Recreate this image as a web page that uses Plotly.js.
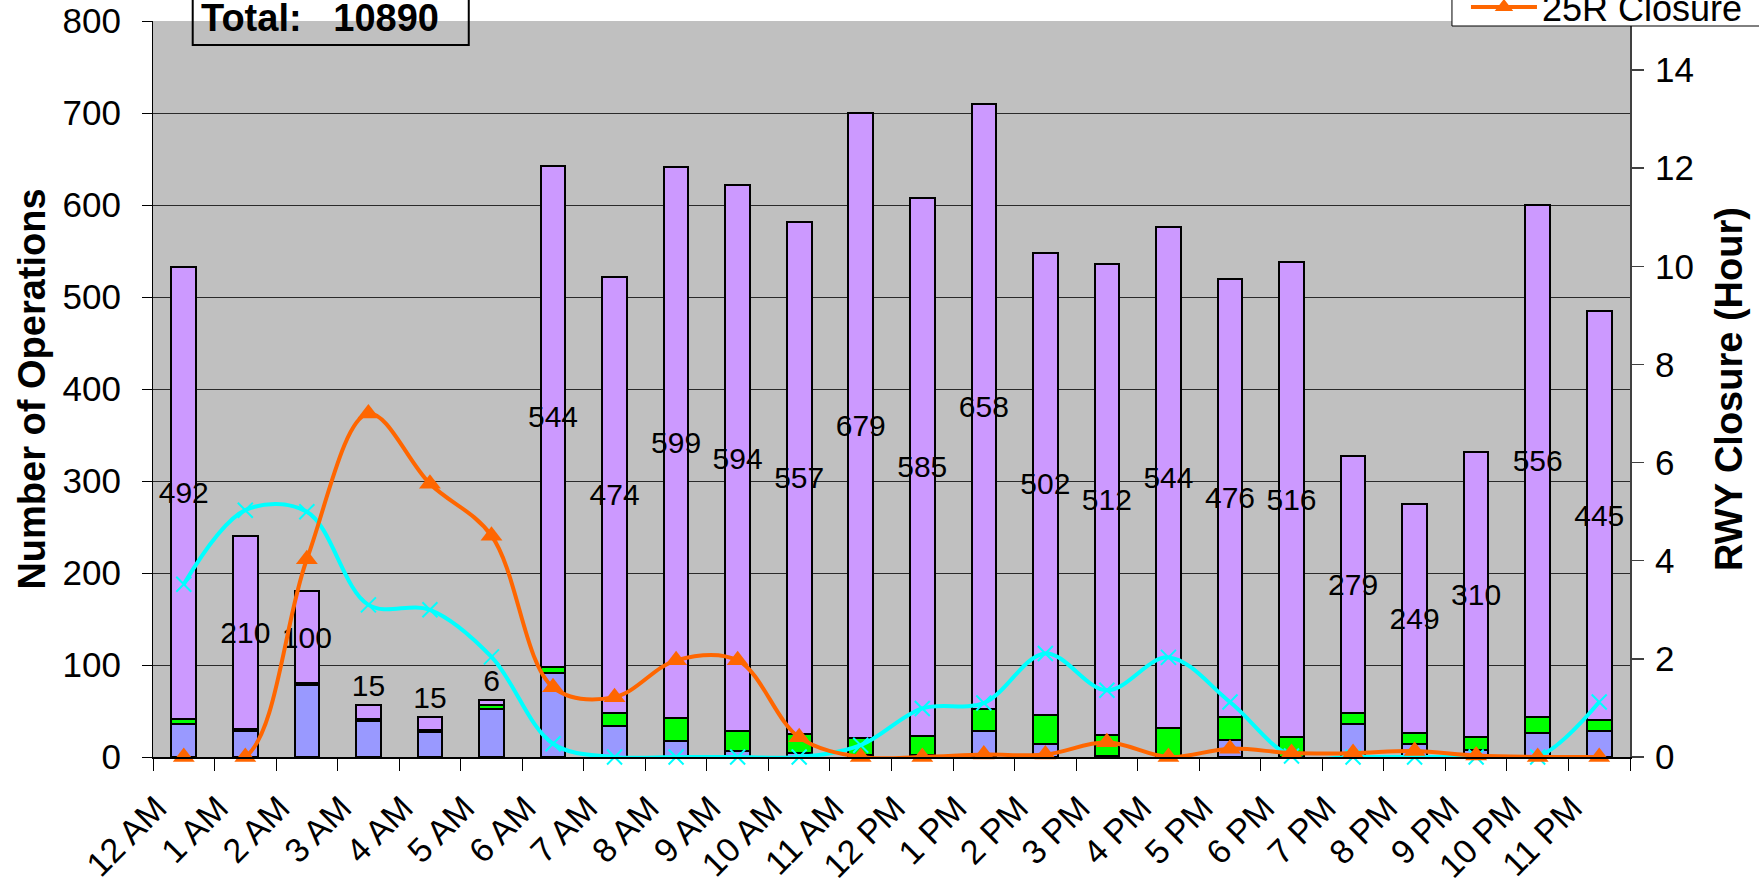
<!DOCTYPE html>
<html>
<head>
<meta charset="utf-8">
<script src="https://cdn.plot.ly/plotly-3.0.1.min.js"></script>
<style>
  html, body { margin: 0; padding: 0; background: #ffffff; }
  #chart { width: 1759px; height: 892px; }
</style>
</head>
<body>
<div id="chart"></div>
<script>
const hours = ['12 AM','1 AM','2 AM','3 AM','4 AM','5 AM','6 AM','7 AM','8 AM','9 AM','10 AM','11 AM',
               '12 PM','1 PM','2 PM','3 PM','4 PM','5 PM','6 PM','7 PM','8 PM','9 PM','10 PM','11 PM'];

const seriesBlue   = [36,28,78,39,27,52,91,34,17,7,4,2,2,28,14,1,0,18,0,36,14,8,26,28];
const seriesGreen  = [5,2,2,2,2,4,7,14,25,21,21,19,21,24,32,23,32,26,22,12,12,14,18,12];
const seriesPurple = [492,210,100,15,15,6,544,474,599,594,557,679,585,658,502,512,544,476,516,279,249,310,556,445];

const closureCyan   = [3.52,5.03,5.0,3.10,3.0,2.04,0.27,0,0,0,0,0.24,0.99,1.10,2.11,1.36,2.03,1.12,0.02,0,0,0,0,1.12];
const closure25R    = [0,0,4.03,7.0,5.57,4.51,1.42,1.22,1.97,1.97,0.40,0,0,0.05,0.05,0.30,0,0.17,0.08,0.08,0.12,0.03,0,0];

const totalOps = 10890;

const FONT = 'Liberation Sans, Arial, sans-serif';
const barLine = {color: '#000000', width: 2};

const smallLimit = 40;
const purplePos = seriesPurple.map(v => v < smallLimit ? 'outside' : 'inside');

const traces = [
  {type: 'bar', name: 'Series A', x: hours, y: seriesBlue,
   marker: {color: '#9999FF', line: barLine}, showlegend: false, hoverinfo: 'x+y'},
  {type: 'bar', name: 'Series B', x: hours, y: seriesGreen,
   marker: {color: '#00FF00', line: barLine}, showlegend: false, hoverinfo: 'x+y'},
  {type: 'bar', name: 'Series C', x: hours, y: seriesPurple,
   marker: {color: '#CC99FF', line: barLine}, showlegend: false,
   text: seriesPurple.map(String), textposition: purplePos, insidetextanchor: 'middle',
   textangle: 0, constraintext: 'none', cliponaxis: false,
   textfont: {family: FONT, size: 30, color: '#000000'},
   insidetextfont: {family: FONT, size: 30, color: '#000000'},
   outsidetextfont: {family: FONT, size: 30, color: '#000000'},
   hoverinfo: 'x+y'},
  {type: 'scatter', mode: 'lines+markers', name: '25L Closure', x: hours, y: closureCyan, yaxis: 'y2',
   line: {color: '#00FFFF', width: 4, shape: 'spline', smoothing: 1},
   marker: {symbol: 'x-thin', size: 15, color: '#00FFFF', line: {color: '#00FFFF', width: 2}},
   showlegend: false, cliponaxis: false},
  {type: 'scatter', mode: 'lines+markers', name: '25R Closure', x: hours, y: closure25R, yaxis: 'y2',
   line: {color: '#FF6600', width: 4, shape: 'spline', smoothing: 1},
   marker: {symbol: 'triangle-up', size: 19, color: '#FF6600'},
   showlegend: true, cliponaxis: false}
];

const L = 153.3, R = 1630, T = 21, B = 757;
const W = 1759, H = 892;
const px2px = x => (x - L) / (R - L);
const py2py = y => (B - y) / (B - T);

const layout = {
  width: W, height: H,
  margin: {l: L, r: W - R, t: T, b: H - B, pad: 0, autoexpand: false},
  paper_bgcolor: '#ffffff',
  plot_bgcolor: '#C0C0C0',
  barmode: 'stack',
  bargap: 0.6,
  font: {family: FONT, size: 35, color: '#000000'},
  xaxis: {
    type: 'category', tickangle: -45, tickson: 'boundaries',
    ticks: 'outside', ticklen: 12, tickcolor: '#000000', tickwidth: 1,
    ticklabelshift: -27, ticklabelstandoff: 16,
    showline: true, linecolor: '#000000', linewidth: 1.5,
    showgrid: false, tickfont: {family: FONT, size: 34, color: '#000000'},
    range: [-0.5, 23.5], automargin: false
  },
  yaxis: {
    range: [0, 800], dtick: 100, tick0: 0,
    ticks: 'outside', ticklen: 10, tickcolor: '#000000', tickwidth: 1,
    ticklabelstandoff: 14,
    showline: true, linecolor: '#000000', linewidth: 1,
    showgrid: true, gridcolor: '#2a2a2a', gridwidth: 1,
    zeroline: false,
    tickfont: {family: FONT, size: 35, color: '#000000'},
    title: {text: 'Number of Operations', font: {family: FONT, size: 38, color: '#000000', weight: 'bold'}, standoff: 5},
    automargin: false
  },
  yaxis2: {
    overlaying: 'y', side: 'right', range: [0, 15], dtick: 2, tick0: 0,
    ticks: 'outside', ticklen: 12, tickcolor: '#404040', tickwidth: 1.5,
    ticklabelstandoff: 4,
    showline: true, linecolor: '#404040', linewidth: 2,
    showgrid: false, zeroline: false,
    tickfont: {family: FONT, size: 35, color: '#000000'},
    title: {text: 'RWY Closure (Hour)', font: {family: FONT, size: 38, color: '#000000', weight: 'bold'}, standoff: 22},
    automargin: false
  },
  legend: {
    x: px2px(1440), xanchor: 'left',
    y: py2py(7), yanchor: 'middle',
    bgcolor: 'rgba(0,0,0,0)', borderwidth: 0,
    font: {family: FONT, size: 36, color: '#000000'},
    itemwidth: 66, indentation: 26
  },
  shapes: [
    {type: 'rect', xref: 'paper', yref: 'paper', layer: 'above',
     x0: px2px(1452), x1: px2px(1800), y0: py2py(26), y1: py2py(-20),
     fillcolor: '#ffffff', line: {color: '#000000', width: 1}},
    {type: 'rect', xref: 'paper', yref: 'paper', layer: 'above',
     x0: px2px(193), x1: px2px(469), y0: py2py(45), y1: py2py(-20),
     fillcolor: 'rgba(0,0,0,0)', line: {color: '#000000', width: 2}}
  ],
  annotations: [{
    xref: 'paper', yref: 'paper',
    x: px2px(201), xanchor: 'left',
    y: py2py(18), yanchor: 'middle',
    text: 'Total:\u00A0\u00A0\u00A0' + totalOps,
    showarrow: false, align: 'left',
    font: {family: FONT, size: 38, color: '#000000', weight: 'bold'},
    borderpad: 0, borderwidth: 0
  }]
};

Plotly.newPlot('chart', traces, layout, {displayModeBar: false, staticPlot: true});
</script>
</body>
</html>
